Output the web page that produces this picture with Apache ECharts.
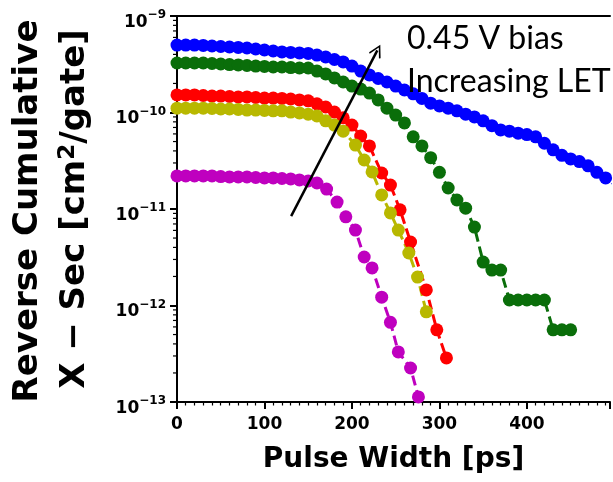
<!DOCTYPE html>
<html><head><meta charset="utf-8">
<script src="https://cdn.jsdelivr.net/npm/echarts@6/dist/echarts.min.js"></script>
<style>html,body{margin:0;padding:0;background:#fff}#c{width:613px;height:482px}</style>
</head><body><div id="c"></div>
<script>
// ---- data (pulse width in ps, reverse cumulative cross-section in cm^2/gate) ----
const blueX = [0,10,20,30,40,50,60,70,80,90,100,110,120,130,140,150,160,170,180,190,200,210,220,230,240,250,260,270,280,290,300,310,320,330,340,350,360,370,380,390,400,410,420,430,440,450,460,470,480,490,500];
const blueY = [5.0e-10,5.0e-10,5.0e-10,4.95e-10,4.89e-10,4.83e-10,4.77e-10,4.72e-10,4.66e-10,4.55e-10,4.44e-10,4.34e-10,4.24e-10,4.19e-10,4.14e-10,4.09e-10,3.94e-10,3.76e-10,3.54e-10,3.34e-10,3.03e-10,2.69e-10,2.45e-10,2.25e-10,2.07e-10,1.88e-10,1.71e-10,1.56e-10,1.40e-10,1.25e-10,1.17e-10,1.11e-10,1.04e-10,9.6e-11,9.0e-11,8.2e-11,7.3e-11,6.6e-11,6.4e-11,6.1e-11,5.9e-11,5.6e-11,4.8e-11,4.1e-11,3.6e-11,3.3e-11,3.1e-11,2.8e-11,2.4e-11,2.1e-11,1.8e-11];

const greenX = [0,10,20,30,40,50,60,70,80,90,100,110,120,130,140,150,160,170,180,190,200,210,220,230,240,250,260,270,280,290,300,310,320,330,340,350,360,370,380,390,400,410,420,430,440,450];
const greenY = [3.26e-10,3.26e-10,3.26e-10,3.26e-10,3.22e-10,3.18e-10,3.14e-10,3.11e-10,3.07e-10,3.03e-10,3.0e-10,2.96e-10,2.96e-10,2.92e-10,2.89e-10,2.89e-10,2.69e-10,2.51e-10,2.28e-10,2.07e-10,1.88e-10,1.75e-10,1.59e-10,1.35e-10,1.11e-10,9.4e-11,7.8e-11,5.6e-11,4.5e-11,3.4e-11,2.4e-11,1.65e-11,1.24e-11,1.02e-11,6.5e-12,2.82e-12,2.33e-12,2.33e-12,1.14e-12,1.14e-12,1.14e-12,1.14e-12,1.14e-12,5.6e-13,5.6e-13,5.6e-13];

const redX = [0,10,20,30,40,50,60,70,80,90,100,110,120,130,140,150,160,170,180,190,200,210,220,234,244,255,267,285,297,308];
const redY = [1.52e-10,1.52e-10,1.52e-10,1.50e-10,1.48e-10,1.48e-10,1.465e-10,1.45e-10,1.45e-10,1.43e-10,1.41e-10,1.41e-10,1.40e-10,1.38e-10,1.35e-10,1.32e-10,1.23e-10,1.14e-10,1.01e-10,8.8e-11,7.4e-11,5.7e-11,4.5e-11,2.36e-11,1.77e-11,9.8e-12,4.55e-12,1.45e-12,5.6e-13,2.86e-13];

const yellowX = [0,10,20,30,40,50,60,70,80,90,100,110,120,130,140,150,160,170,180,190,204,214,223,234,244,253,265,275,285];
const yellowY = [1.11e-10,1.11e-10,1.11e-10,1.11e-10,1.10e-10,1.087e-10,1.087e-10,1.075e-10,1.06e-10,1.06e-10,1.05e-10,1.04e-10,1.04e-10,1.01e-10,9.9e-11,9.6e-11,9.2e-11,8.2e-11,7.4e-11,6.4e-11,4.6e-11,3.22e-11,2.42e-11,1.40e-11,9.1e-12,6.05e-12,3.5e-12,1.97e-12,8.6e-13];

const magentaX = [0,10,20,30,40,50,60,70,80,90,100,110,120,130,140,150,160,171,183,193,204,214,223,234,244,253,267,276];
const magentaY = [2.20e-11,2.20e-11,2.20e-11,2.20e-11,2.20e-11,2.17e-11,2.15e-11,2.15e-11,2.15e-11,2.12e-11,2.10e-11,2.10e-11,2.07e-11,2.05e-11,2.0e-11,1.95e-11,1.86e-11,1.61e-11,1.18e-11,8.3e-12,6.05e-12,3.18e-12,2.45e-12,1.22e-12,6.7e-13,3.3e-13,2.25e-13,1.13e-13];

const xTicks = [0,100,200,300,400];
const yMinorTicks = [];
[1e-13,1e-12,1e-11,1e-10].forEach(d => { for (let k = 2; k <= 9; k++) yMinorTicks.push(k * d); });

const arrowFrom = [130.5, 8.45e-12];
const arrowTo = [229, 4.4e-10];
const annoLines = ['0.45 V bias', 'Increasing LET'];
const yTitle = ['Reverse Cumulative', 'X − Sec [cm{s|2}/gate]'];
const xTitle = 'Pulse Width [ps]';

// ---- chart ----
const zip = (xs, ys) => xs.map((x, i) => [x, ys[i]]);
const chart = echarts.init(document.getElementById('c'), null, {renderer: 'canvas'});
const FONT = 'DejaVu Sans';

function lineSeries(name, color, xs, ys, extra) {
  return Object.assign({
    name, type: 'line', data: zip(xs, ys), xAxisIndex: 0, yAxisIndex: 0,
    showSymbol: true, showAllSymbol: true, symbol: 'circle', symbolSize: 13,
    itemStyle: {color},
    lineStyle: {color, width: 3, type: [10, 5]},
    animation: false, clip: true
  }, extra || {});
}

const option = {
  animation: false,
  backgroundColor: '#fff',
  grid: {left: 177, right: 0, top: 16, bottom: 80, containLabel: false},
  xAxis: [{
    type: 'value', min: 0, max: 495, interval: 100, position: 'bottom',
    axisLine: {show: true, onZero: false, lineStyle: {color: '#000', width: 2}},
    axisTick: {show: true, length: 7, lineStyle: {color: '#000', width: 2}},
    minorTick: {show: true, splitNumber: 10, length: 3.5, lineStyle: {color: '#000', width: 1.2}},
    splitLine: {show: false},
    axisLabel: {color: '#000', fontFamily: FONT, fontWeight: 'bold', fontSize: 17, margin: 14,
      formatter: v => (xTicks.indexOf(v) >= 0 ? String(v) : '')},
    name: xTitle, nameLocation: 'middle', nameGap: 44,
    nameTextStyle: {color: '#000', fontFamily: FONT, fontWeight: 'bold', fontSize: 28}
  }, {
    type: 'value', min: 0, max: 495, position: 'top',
    axisLine: {show: true, onZero: false, lineStyle: {color: '#000', width: 2}},
    axisTick: {show: false}, axisLabel: {show: false}, splitLine: {show: false}
  }],
  yAxis: [{
    type: 'log', logBase: 10, min: 1e-13, max: 1e-9,
    axisLine: {show: true, onZero: false, lineStyle: {color: '#000', width: 2}},
    axisTick: {show: true, length: 7, lineStyle: {color: '#000', width: 2}},
    splitLine: {show: false},
    axisLabel: {
      color: '#000', fontFamily: FONT, fontWeight: 'bold', margin: 11,
      formatter: v => '{b|10}{s|−' + (-Math.round(Math.log10(v))) + '}',
      rich: {
        b: {fontFamily: FONT, fontWeight: 'bold', fontSize: 17, color: '#000', padding: [13, 0, 0, 0]},
        s: {fontFamily: FONT, fontWeight: 'bold', fontSize: 12, color: '#000', padding: [0, 0, 2, 0]}
      }
    }
  }],
  graphic: [
    {type: 'text', x: 28, y: 211, rotation: Math.PI / 2,
     style: {text: yTitle[0], fontFamily: FONT, fontWeight: 'bold', fontSize: 34, fill: '#000', align: 'center', verticalAlign: 'middle'}},
    {type: 'text', x: 75, y: 209, rotation: Math.PI / 2,
     style: {text: yTitle[1], fontFamily: FONT, fontWeight: 'bold', fontSize: 34, fill: '#000', align: 'center', verticalAlign: 'middle',
       rich: {s: {fontFamily: FONT, fontWeight: 'bold', fontSize: 23, fill: '#000', padding: [0, 0, 14, 0]}}}},
    {type: 'text', x: 407, y: 39, z: 100,
     style: {text: annoLines[0], fontFamily: 'Lato', fontSize: 32, fill: '#000', align: 'left', verticalAlign: 'middle'}},
    {type: 'text', x: 407, y: 82, z: 100,
     style: {text: annoLines[1], fontFamily: 'Lato', fontSize: 32, fill: '#000', align: 'left', verticalAlign: 'middle'}}
  ],
  series: [
    lineSeries('m', '#bf00bf', magentaX, magentaY),
    lineSeries('r', '#ff0000', redX, redY),
    lineSeries('y', '#b8b800', yellowX, yellowY),
    lineSeries('g', '#0a6e0a', greenX, greenY),
    lineSeries('b', '#0000ff', blueX, blueY, {
      markLine: {
        silent: true, animation: false, z: 50,
        symbol: ['none', 'path://M10,0 L20,16 L18,17.5 L10,4.5 L2,17.5 L0,16 Z'],
        symbolSize: [13, 13],
        lineStyle: {color: '#000', width: 2.5, type: 'solid'},
        label: {show: false},
        data: [[{coord: arrowFrom}, {coord: arrowTo}]]
      }
    }),
    {
      type: 'custom', name: 'minorY', data: yMinorTicks.map(v => [0, v]), silent: true, clip: false, z: 3,
      renderItem: (params, api) => {
        const p = api.coord([api.value(0), api.value(1)]);
        return {type: 'line', shape: {x1: p[0] - 4, y1: p[1], x2: p[0], y2: p[1]}, style: {stroke: '#000', lineWidth: 1.2}};
      }
    }
  ]
};
chart.setOption(option);
</script></body></html>
